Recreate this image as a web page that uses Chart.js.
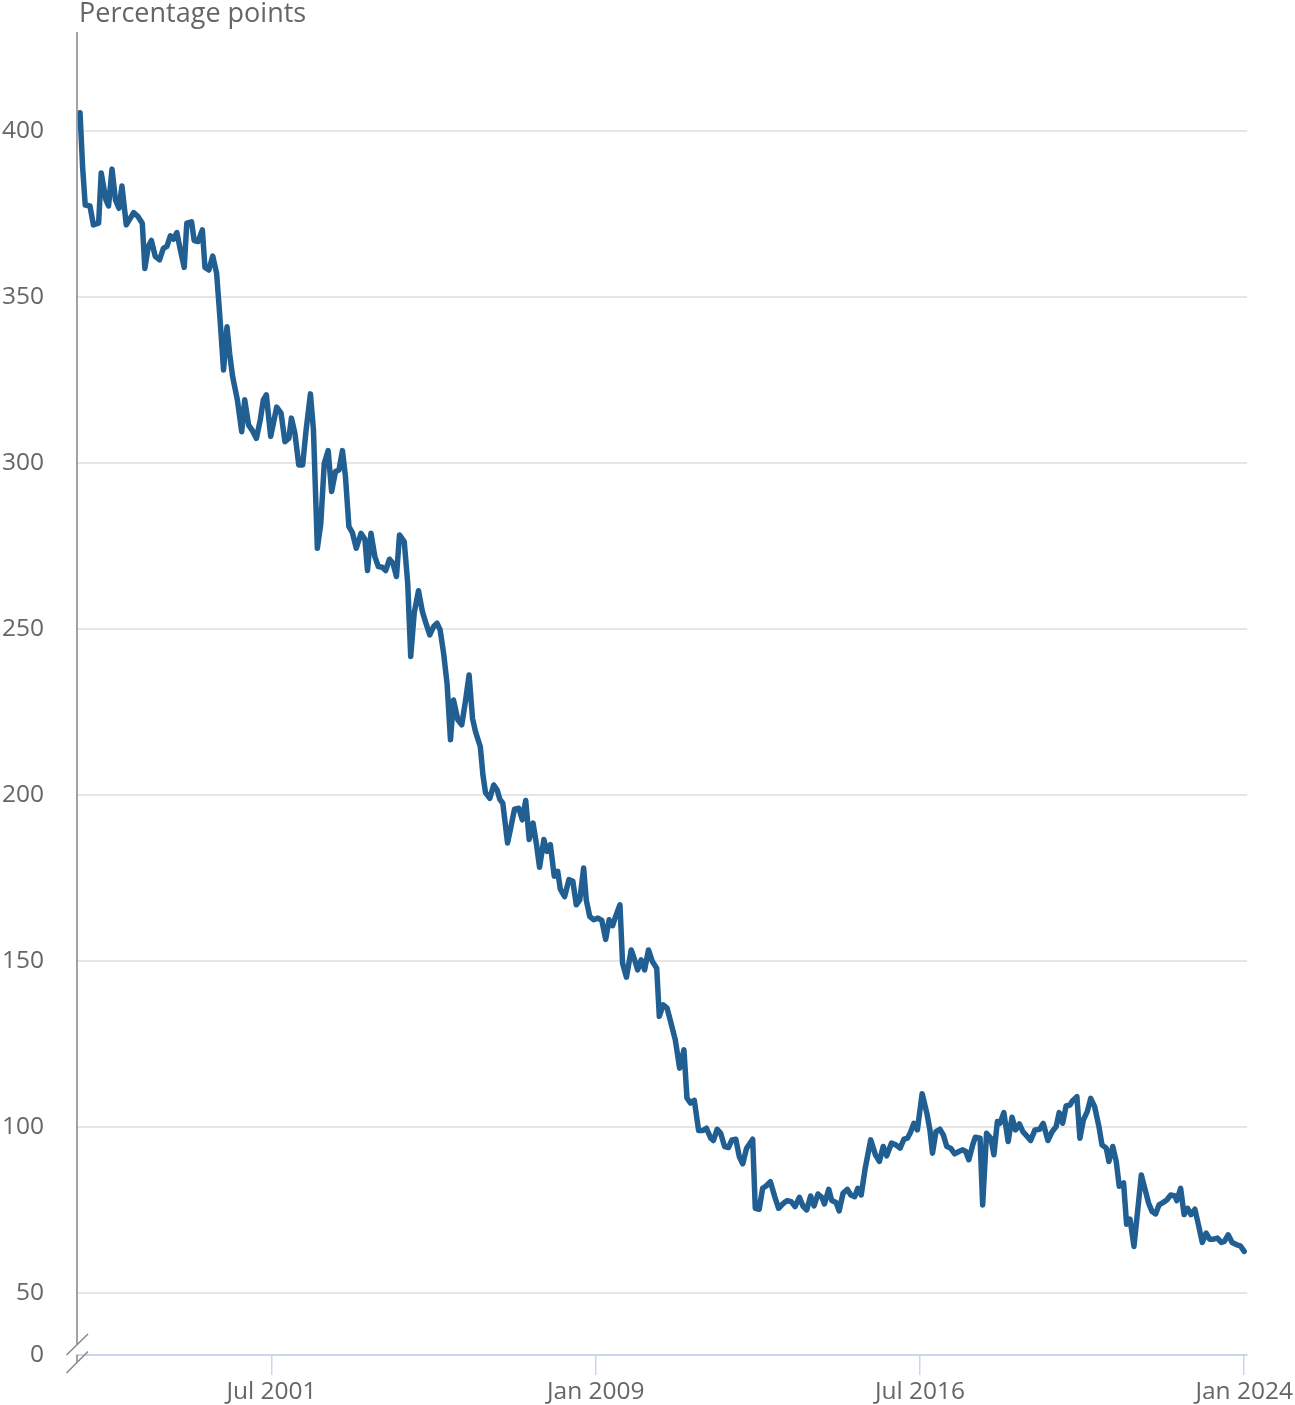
<!DOCTYPE html>
<html>
<head>
<meta charset="utf-8">
<script src="https://cdn.jsdelivr.net/npm/chart.js@4.4.0/dist/chart.umd.min.js"></script>
<style>
  html, body { margin: 0; padding: 0; background: #fff; }
  #wrap { width: 1295px; height: 1405px; }
</style>
</head>
<body>
<div id="wrap"><canvas id="spread-chart" width="1295" height="1405"></canvas></div>
<script>
// fechas en años decimales
const years = [
  1997.07, 1997.13, 1997.19, 1997.30, 1997.38, 1997.50, 1997.56, 1997.67, 1997.73, 1997.81,
  1997.89, 1997.97, 1998.04, 1998.14, 1998.21, 1998.31, 1998.41, 1998.51, 1998.57, 1998.65,
  1998.72, 1998.81, 1998.91, 1999.00, 1999.08, 1999.16, 1999.23, 1999.31, 1999.39, 1999.48,
  1999.54, 1999.65, 1999.71, 1999.80, 1999.90, 1999.96, 2000.05, 2000.14, 2000.23, 2000.31,
  2000.39, 2000.47, 2000.53, 2000.60, 2000.71, 2000.81, 2000.88, 2000.97, 2001.05, 2001.15,
  2001.24, 2001.31, 2001.38, 2001.48, 2001.62, 2001.72, 2001.81, 2001.90, 2001.96, 2002.04,
  2002.13, 2002.22, 2002.30, 2002.40, 2002.47, 2002.56, 2002.64, 2002.72, 2002.81, 2002.89,
  2002.98, 2003.06, 2003.14, 2003.21, 2003.29, 2003.37, 2003.46, 2003.57, 2003.66, 2003.72,
  2003.80, 2003.89, 2003.97, 2004.06, 2004.14, 2004.23, 2004.31, 2004.39, 2004.46, 2004.57,
  2004.65, 2004.72, 2004.80, 2004.90, 2004.99, 2005.06, 2005.16, 2005.25, 2005.33, 2005.40,
  2005.48, 2005.56, 2005.64, 2005.71, 2005.81, 2005.90, 2005.99, 2006.07, 2006.15, 2006.22,
  2006.33, 2006.39, 2006.45, 2006.55, 2006.64, 2006.72, 2006.78, 2006.85, 2006.96, 2007.04,
  2007.12, 2007.22, 2007.30, 2007.38, 2007.46, 2007.55, 2007.63, 2007.70, 2007.80, 2007.87,
  2007.95, 2008.04, 2008.12, 2008.18, 2008.28, 2008.38, 2008.47, 2008.55, 2008.63, 2008.72,
  2008.78, 2008.86, 2008.95, 2009.05, 2009.14, 2009.23, 2009.31, 2009.39, 2009.46, 2009.56,
  2009.62, 2009.71, 2009.82, 2009.90, 2009.97, 2010.05, 2010.13, 2010.22, 2010.31, 2010.41,
  2010.47, 2010.56, 2010.65, 2010.74, 2010.84, 2010.94, 2011.04, 2011.11, 2011.19, 2011.28,
  2011.38, 2011.48, 2011.56, 2011.66, 2011.72, 2011.81, 2011.89, 2011.98, 2012.07, 2012.15,
  2012.24, 2012.32, 2012.40, 2012.49, 2012.63, 2012.69, 2012.78, 2012.86, 2012.94, 2013.04,
  2013.14, 2013.23, 2013.34, 2013.43, 2013.52, 2013.61, 2013.71, 2013.80, 2013.88, 2013.97,
  2014.05, 2014.14, 2014.23, 2014.29, 2014.39, 2014.46, 2014.56, 2014.63, 2014.72, 2014.82,
  2014.90, 2014.99, 2015.06, 2015.14, 2015.23, 2015.36, 2015.47, 2015.56, 2015.65, 2015.73,
  2015.84, 2015.94, 2016.04, 2016.13, 2016.21, 2016.28, 2016.36, 2016.44, 2016.55, 2016.66,
  2016.73, 2016.79, 2016.87, 2016.96, 2017.04, 2017.12, 2017.21, 2017.30, 2017.40, 2017.49,
  2017.56, 2017.63, 2017.72, 2017.78, 2017.89, 2017.95, 2018.04, 2018.14, 2018.21, 2018.29,
  2018.35, 2018.44, 2018.54, 2018.63, 2018.71, 2018.80, 2018.88, 2018.97, 2019.06, 2019.16,
  2019.27, 2019.35, 2019.46, 2019.56, 2019.65, 2019.72, 2019.80, 2019.88, 2019.97, 2020.03,
  2020.13, 2020.20, 2020.28, 2020.37, 2020.45, 2020.54, 2020.64, 2020.71, 2020.81, 2020.87,
  2020.96, 2021.04, 2021.11, 2021.21, 2021.28, 2021.36, 2021.45, 2021.53, 2021.62, 2021.72,
  2021.79, 2021.87, 2021.95, 2022.03, 2022.12, 2022.21, 2022.30, 2022.40, 2022.44, 2022.53,
  2022.61, 2022.69, 2022.77, 2022.86, 2022.95, 2023.03, 2023.12, 2023.20, 2023.29, 2023.38,
  2023.47, 2023.54, 2023.63, 2023.72, 2023.83, 2023.91, 2024.00
];
const spread = [
  405.5, 389, 377.7, 377.4, 371.7, 372.2, 387.3, 379.2, 377.4, 388.5,
  379.2, 376.7, 383.4, 371.7, 373.2, 375.4, 374.2, 372.2, 358.6, 365.2,
  367, 362.2, 361.2, 364.7, 365.2, 368.4, 367.4, 369.4, 364.2, 358.9,
  372.2, 372.6, 367, 366.7, 370.2, 358.9, 358.1, 362.3, 357.1, 343.1,
  328, 341, 333, 326, 319, 309.4, 319, 311.4, 309.9, 307.4,
  313, 319, 320.5, 308, 316.8, 315, 306.4, 307.4, 313.5, 309,
  299.4, 299.4, 309.9, 320.8, 309.9, 274.3, 281.8, 299.9, 303.7, 291.4,
  297.4, 297.9, 303.7, 295.9, 280.8, 279, 274.3, 278.8, 277, 267.6,
  278.8, 271.8, 268.8, 268.6, 267.6, 271, 269.8, 265.8, 278.3, 276.3,
  263.8, 241.7, 254.8, 261.5, 255.2, 252.2, 248.2, 250.7, 251.7, 249.7,
  242.7, 233.6, 216.6, 228.6, 222.6, 221.1, 228.6, 236.1, 223, 219,
  214.5, 206, 200.7, 199, 203, 201.5, 198.7, 197.5, 185.5, 190.5,
  195.7, 196, 192.5, 198.3, 186.6, 191.5, 185, 178.2, 186.6, 183,
  185, 175.5, 177, 171.6, 169.4, 174.5, 174, 166.9, 168.4, 178,
  168.4, 163.4, 162.4, 162.9, 162.2, 156.5, 162.4, 160.6, 163.4, 166.9,
  149.3, 145.1, 153.3, 150.3, 147.3, 150.3, 147.3, 153.3, 149.8, 147.8,
  133.3, 136.8, 135.8, 131.3, 126.2, 117.7, 123.2, 108.7, 107.2, 108,
  98.9, 98.9, 99.6, 96.6, 95.9, 99.3, 98.1, 94.1, 93.8, 96.1,
  96.3, 91.1, 88.9, 93.6, 96.3, 75.5, 75.2, 81.5, 82.2, 83.5,
  79, 75.5, 77, 77.8, 77.5, 76, 78.8, 76, 75, 79.2,
  76.2, 79.8, 78.8, 76.8, 81.2, 77.8, 77.2, 74.7, 80, 81.2,
  79.5, 79, 81.5, 79.5, 87.3, 96.1, 91.6, 89.6, 94.1, 91.3,
  95.1, 94.6, 93.6, 96.3, 96.6, 98.3, 101.1, 99.1, 110, 104.1,
  99.1, 92.1, 98.6, 99.3, 97.6, 94.1, 93.6, 91.9, 92.6, 93.1,
  92.6, 90.1, 94.6, 96.9, 96.6, 76.5, 98.1, 96.6, 91.6, 101.6,
  101.1, 104.3, 95.6, 102.9, 99.1, 100.9, 98.6, 97.3, 95.9, 99.1,
  99.3, 101.1, 95.9, 98.6, 100.1, 104.3, 101.1, 106.3, 106.6, 107.9,
  109.1, 96.6, 102.1, 104.6, 108.6, 106.1, 100.1, 94.6, 93.6, 89.6,
  94.1, 89.6, 82.1, 83.1, 70.7, 72.2, 64, 74, 85.5, 80.5,
  77, 74.5, 73.8, 76.5, 77.2, 78, 79.5, 79.2, 77.8, 81.5,
  73.6, 75.5, 73.6, 75.2, 70, 65.2, 68, 66.2, 66.2, 66.5,
  65.2, 65.5, 67.5, 65.2, 64.5, 64.2, 62.5
];

const yTicks = [50, 100, 150, 200, 250, 300, 350, 400];
const xTickPos = [2001.5, 2009, 2016.5, 2024];
const xTickLabels = ['Jul 2001', 'Jan 2009', 'Jul 2016', 'Jan 2024'];

const Y_MIN = 31.3;   // el eje está cortado: el fondo se rotula como 0
const Y_MAX = 429.8;
const FONT = "'Open Sans', sans-serif";
const GRIS = '#666666';

const puntos = years.map((x, i) => ({ x, y: spread[i] }));

// eje vertical con el corte y título arriba
const ejeCortado = {
  id: 'ejeCortado',
  afterDraw(chart) {
    const { ctx, chartArea } = chart;
    const x0 = chartArea.left;
    const yb = chartArea.bottom;
    ctx.save();
    ctx.strokeStyle = '#8c8c8c';
    ctx.lineWidth = 1.6;
    ctx.beginPath();
    ctx.moveTo(x0, chartArea.top);
    ctx.lineTo(x0, yb - 10.5);
    ctx.moveTo(x0, yb);
    ctx.lineTo(x0, yb + 7.5);
    ctx.stroke();
    ctx.beginPath();
    ctx.moveTo(x0 - 10.5, yb);
    ctx.lineTo(x0 + 11, yb - 21);
    ctx.moveTo(x0 - 10.5, yb + 18);
    ctx.lineTo(x0 + 11, yb - 3.5);
    ctx.stroke();

    ctx.fillStyle = GRIS;
    ctx.font = '27px ' + FONT;
    ctx.textAlign = 'left';
    ctx.textBaseline = 'middle';
    ctx.fillText('Percentage points', x0 + 2, 14);
    ctx.restore();
  }
};

new Chart(document.getElementById('spread-chart'), {
  type: 'line',
  data: {
    datasets: [{
      label: 'Spread',
      data: puntos,
      borderColor: '#215f93',
      borderWidth: 5.5,
      borderJoinStyle: 'round',
      borderCapStyle: 'round',
      pointRadius: 0,
      tension: 0,
      fill: false
    }]
  },
  options: {
    responsive: false,
    animation: false,
    layout: { padding: { top: 32, right: 0, left: 0, bottom: 0 } },
    plugins: {
      legend: { display: false },
      tooltip: { enabled: false }
    },
    scales: {
      x: {
        type: 'linear',
        min: 1997.0,
        max: 2024.07,
        afterBuildTicks: scale => { scale.ticks = xTickPos.map(v => ({ value: v })); },
        afterFit: scale => { scale.height = 50; },
        ticks: {
          autoSkip: false,
          maxRotation: 0,
          padding: 2,
          color: GRIS,
          font: { family: FONT, size: 24.5 },
          callback: (v, i) => xTickLabels[i]
        },
        grid: {
          drawOnChartArea: false,
          drawTicks: true,
          tickLength: 20,
          color: '#ccd6eb',
          lineWidth: 1.5
        },
        border: { display: true, color: '#ccd6eb', width: 2 }
      },
      y: {
        type: 'linear',
        min: Y_MIN,
        max: Y_MAX,
        afterBuildTicks: scale => {
          scale.ticks = [{ value: Y_MIN }].concat(yTicks.map(v => ({ value: v })));
        },
        afterFit: scale => { scale.width = 77; },
        ticks: {
          padding: 0,
          color: GRIS,
          font: { family: FONT, size: 24.5 },
          callback: v => (v === Y_MIN ? '0' : v)
        },
        grid: {
          drawTicks: true,
          tickLength: 33,
          tickColor: 'rgba(0,0,0,0)',
          lineWidth: 2,
          color: c => (c.tick && c.tick.value === Y_MIN ? 'rgba(0,0,0,0)' : '#e6e6e6')
        },
        border: { display: false }
      }
    }
  },
  plugins: [ejeCortado]
});
</script>
</body>
</html>
